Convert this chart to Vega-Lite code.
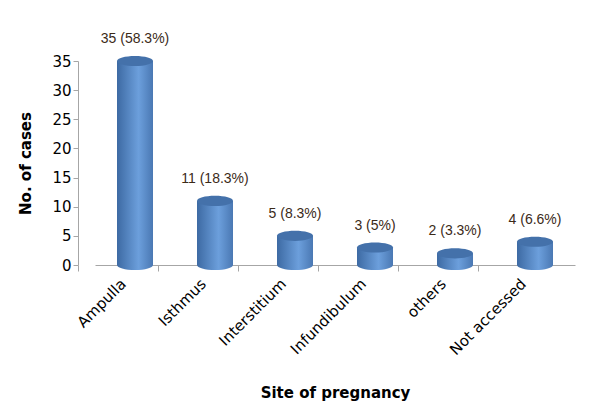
{
  "$schema": "https://vega.github.io/schema/vega-lite/v6.json",
  "autosize": {"type": "none"},
  "padding": {"left": 95, "top": 61, "right": 31, "bottom": 138},
  "width": 480,
  "height": 204,
  "background": "white",
  "config": {"view": {"stroke": null}, "font": "DejaVu Sans",
    "axisY": {"titleFont": "DejaVu Sans", "titleFontSize": 15, "titleFontWeight": "bold", "titleColor": "#000", "titlePadding": 18,
      "labelOverlap": false, "labelFlush": false, "labelFontSize": 15, "labelColor": "#000", "labelFont": "DejaVu Sans",
      "grid": false, "offset": 17, "domainColor": "#a6a6a6", "tickColor": "#a6a6a6", "tickSize": 5}},
  "data": {"values": [
    {"site": "Ampulla", "cases": 35, "label": "35 (58.3%)"},
    {"site": "Isthmus", "cases": 11, "label": "11 (18.3%)"},
    {"site": "Interstitium", "cases": 5, "label": "5 (8.3%)"},
    {"site": "Infundibulum", "cases": 3, "label": "3 (5%)"},
    {"site": "others", "cases": 2, "label": "2 (3.3%)"},
    {"site": "Not accessed", "cases": 4, "label": "4 (6.6%)"}
  ]},
  "encoding": {
    "x": {"field": "site", "type": "nominal", "sort": null,
      "scale": {"paddingInner": 0, "paddingOuter": 0},
      "axis": {"title": "Site of pregnancy", "titleFont": "DejaVu Sans", "titleFontSize": 15, "titleFontWeight": "bold", "titleColor": "#000", "titlePadding": 28,
        "labelAngle": -45, "labelFontSize": 15, "labelColor": "#000", "labelFont": "DejaVu Sans",
        "tickOffset": -57, "labelOffset": 40, "domainColor": "#a6a6a6", "tickColor": "#a6a6a6", "tickSize": 6, "labelPadding": 5}}
  },
  "layer": [
    {"mark": {"type": "point", "filled": true, "opacity": 1, "size": 1296,
      "shape": "M-1,0 A1,0.28 0 1,0 1,0 A1,0.28 0 1,0 -1,0 Z",
      "fill": {"gradient": "linear", "x1": 0, "y1": 0, "x2": 1, "y2": 0, "stops": [{"offset": 0, "color": "#3d6aa3"}, {"offset": 0.6, "color": "#6c9fdc"}, {"offset": 1, "color": "#4a78b3"}]}},
      "encoding": {"y": {"datum": 0, "type": "quantitative", "scale": {"domain": [0, 35], "nice": false},
        "axis": {"title": "No. of cases", "values": [0, 5, 10, 15, 20, 25, 30, 35]}}}},
    {"mark": {"type": "bar", "width": 36,
      "fill": {"gradient": "linear", "x1": 0, "y1": 0, "x2": 1, "y2": 0, "stops": [{"offset": 0, "color": "#3d6aa3"}, {"offset": 0.6, "color": "#6c9fdc"}, {"offset": 1, "color": "#4a78b3"}]}},
      "encoding": {"y": {"field": "cases", "type": "quantitative",
        "axis": {"title": "No. of cases", "values": [0, 5, 10, 15, 20, 25, 30, 35]}}}},
    {"mark": {"type": "point", "filled": true, "opacity": 1, "size": 1296, "color": "#4471aa",
      "shape": "M-1,0 A1,0.28 0 1,0 1,0 A1,0.28 0 1,0 -1,0 Z"},
      "encoding": {"y": {"field": "cases", "type": "quantitative", "axis": {"title": "No. of cases", "values": [0, 5, 10, 15, 20, 25, 30, 35]}}}},
    {"mark": {"type": "text", "dy": -22, "fontSize": 14, "font": "Liberation Sans", "color": "#3b2a18"},
      "encoding": {"y": {"field": "cases", "type": "quantitative", "axis": {"title": "No. of cases", "values": [0, 5, 10, 15, 20, 25, 30, 35]}}, "text": {"field": "label"}}}
  ]
}
